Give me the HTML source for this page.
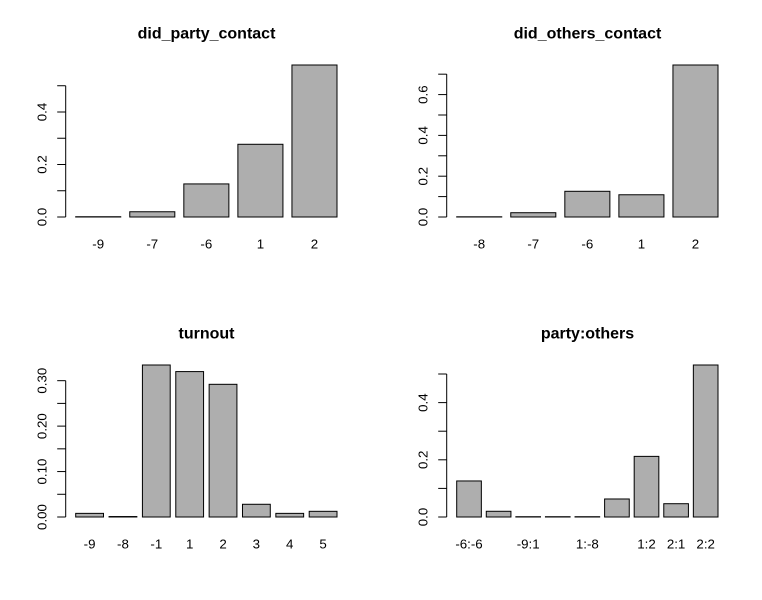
<!DOCTYPE html>
<html>
<head>
<meta charset="utf-8">
<title>Contact and turnout bar charts</title>
<style>
html,body{margin:0;padding:0;background:#fff;}
svg{display:block;}
text{font-family:"Liberation Sans",Arial,sans-serif;fill:#000;}
.title{font-size:16px;font-weight:bold;text-anchor:middle;}
.tick{font-size:13.3px;text-anchor:middle;}
</style>
</head>
<body>
<svg id="chart" width="762" height="600" viewBox="0 0 762 600" xmlns="http://www.w3.org/2000/svg"></svg>
<script>
const partyCategories = ["-9", "-7", "-6", "1", "2"];
const partyValues = [0.001, 0.02, 0.126, 0.277, 0.579];
const partyTicks = [0, 0.1, 0.2, 0.3, 0.4, 0.5];
const partyTickLabels = ["0.0", "", "0.2", "", "0.4", ""];

const othersCategories = ["-8", "-7", "-6", "1", "2"];
const othersValues = [0.001, 0.021, 0.126, 0.109, 0.745];
const othersTicks = [0, 0.1, 0.2, 0.3, 0.4, 0.5, 0.6, 0.7];
const othersTickLabels = ["0.0", "", "0.2", "", "0.4", "", "0.6", ""];

const turnoutCategories = ["-9", "-8", "-1", "1", "2", "3", "4", "5"];
const turnoutValues = [0.008, 0.001, 0.3345, 0.32, 0.292, 0.028, 0.008, 0.0125];
const turnoutTicks = [0, 0.05, 0.1, 0.15, 0.2, 0.25, 0.3];
const turnoutTickLabels = ["0.00", "", "0.10", "", "0.20", "", "0.30"];

const comboCategories = ["-6:-6", "", "-9:1", "", "1:-8", "", "1:2", "2:1", "2:2"];
const comboValues = [0.126, 0.02, 0.001, 0.001, 0.001, 0.063, 0.212, 0.0465, 0.5315];
const comboTicks = [0, 0.1, 0.2, 0.3, 0.4, 0.5];
const comboTickLabels = ["0.0", "", "0.2", "", "0.4", ""];

const svg = document.getElementById('chart');
const NS = 'http://www.w3.org/2000/svg';

function make(parent, tag, attrs, text) {
  const el = document.createElementNS(NS, tag);
  for (const k in attrs) el.setAttribute(k, attrs[k]);
  if (text !== undefined) el.textContent = text;
  parent.appendChild(el);
  return el;
}

function drawPanel(name, title, originX, baseY, categories, values, ticks, tickLabels) {
  const g = make(svg, 'g', {});
  
  

  const left = originX + 75.7, right = originX + 337;
  const n = values.length;
  const unit = (right - left) / (1.2 * n - 0.2);
  const maxV = Math.max.apply(null, values);
  const yScale = v => baseY - v * 152 / maxV;
  const xScale = i => left + i * 1.2 * unit;

  const t = make(g, 'text', {class: 'title', x: originX + 206.5, y: baseY - 178.5}, title);
  
  

  values.forEach((v, i) => {
    const bar = make(g, 'rect', {
      x: xScale(i), y: yScale(v), width: unit, height: baseY - yScale(v),
      fill: '#aeaeae', stroke: '#000', 'stroke-width': 1
    });
    
    

    if (categories[i]) {
      const lab = make(g, 'text', {class: 'tick', x: xScale(i) + unit / 2, y: baseY + 31.5}, categories[i]);
      
      
    }
  });

  const axisX = originX + 65.7;
  const axis = make(g, 'line', {
    x1: axisX, x2: axisX, y1: yScale(ticks[0]), y2: yScale(ticks[ticks.length - 1]),
    stroke: '#000', 'stroke-width': 1
  });
  
  

  ticks.forEach((tv, i) => {
    const y = yScale(tv);
    const tk = make(g, 'line', {x1: axisX - 8.5, x2: axisX, y1: y, y2: y, stroke: '#000', 'stroke-width': 1});
    
    
    if (tickLabels[i]) {
      const lx = originX + 46.5;
      const lab = make(g, 'text', {class: 'tick', x: lx, y: y, transform: 'rotate(-90 ' + lx + ' ' + y + ')'}, tickLabels[i]);
      
      
    }
  });
}

drawPanel('did-party-contact', 'did_party_contact', 0, 217, partyCategories, partyValues, partyTicks, partyTickLabels);
drawPanel('did-others-contact', 'did_others_contact', 381, 217, othersCategories, othersValues, othersTicks, othersTickLabels);
drawPanel('turnout', 'turnout', 0, 517, turnoutCategories, turnoutValues, turnoutTicks, turnoutTickLabels);
drawPanel('party-others', 'party:others', 381, 517, comboCategories, comboValues, comboTicks, comboTickLabels);
</script>
</body>
</html>
